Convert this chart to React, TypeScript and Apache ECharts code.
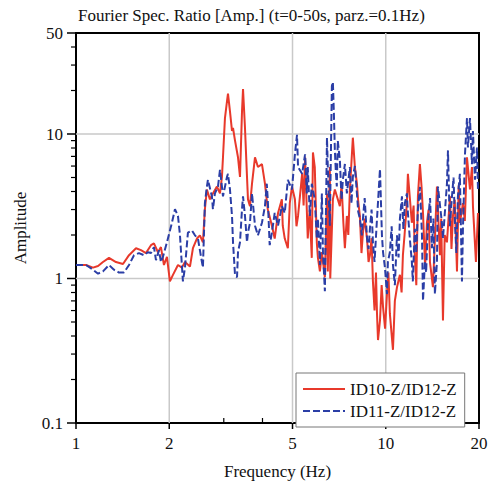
import React, { useEffect, useRef } from "react";
import * as echarts from "echarts";

const TITLE = "Fourier Spec. Ratio [Amp.] (t=0-50s, parz.=0.1Hz)";
const X_NAME = "Frequency (Hz)";
const Y_NAME = "Amplitude";
const SERIES_NAMES = ["ID10-Z/ID12-Z", "ID11-Z/ID12-Z"];
const X_RANGE = [1, 20];
const Y_RANGE = [0.1, 50];
const X_LABELS = [1, 2, 5, 10, 20];
const X_MINOR = [3, 4, 6, 7, 8, 9];
const X_GRID = [2, 5, 10];
const Y_LABELS = [0.1, 1, 10, 50];
const Y_MINOR = [0.2, 0.3, 0.4, 0.5, 0.6, 0.7, 0.8, 0.9, 2, 3, 4, 5, 6, 7, 8, 9, 20, 30, 40];
const Y_GRID = [1, 10];

const RED_FREQ = [
  1.0, 1.077, 1.135, 1.178, 1.222, 1.278, 1.346, 1.418, 1.483, 1.562, 1.621, 1.682, 1.746, 1.785,
  1.839, 1.88, 1.923, 1.966, 2.01, 2.056, 2.134, 2.198, 2.248, 2.333, 2.385, 2.457, 2.512, 2.569,
  2.607, 2.646, 2.706, 2.767, 2.851, 2.916, 2.959, 2.982, 3.026, 3.072, 3.095, 3.141, 3.189, 3.213,
  3.261, 3.334, 3.384, 3.435, 3.461, 3.512, 3.565, 3.591, 3.645, 3.7, 3.783, 3.867, 3.984, 4.074,
  4.16, 4.29, 4.38, 4.49, 4.62, 4.65, 4.72, 4.83, 4.9, 4.98, 5.09, 5.15, 5.21, 5.37, 5.43, 5.49,
  5.6, 5.68, 5.77, 5.82, 5.9, 5.99, 6.04, 6.13, 6.22, 6.36, 6.46, 6.5, 6.6, 6.62, 6.75, 6.85, 7.11,
  7.2, 7.3, 7.38, 7.49, 7.57, 7.66, 7.83, 7.95, 8.07, 8.15, 8.25, 8.35, 8.44, 8.55, 8.7, 8.8, 8.89,
  9.0, 9.09, 9.2, 9.3, 9.37, 9.44, 9.58, 9.7, 9.8, 9.95, 10.09, 10.2, 10.31, 10.55, 10.7, 10.87,
  11.11, 11.25, 11.36, 11.5, 11.7, 11.79, 12.14, 12.3, 12.41, 12.55, 12.7, 12.89, 13.05, 13.19,
  13.4, 13.58, 13.75, 13.89, 14.2, 14.4, 14.63, 14.96, 15.1, 15.3, 15.5, 15.76, 16.12, 16.3, 16.48,
  16.7, 16.98, 17.2, 17.36, 17.75, 18.0, 18.29, 18.7, 18.98, 19.12, 19.55, 19.85,
];
const RED_AMP = [
  1.24, 1.24, 1.19, 1.22, 1.3, 1.39, 1.3, 1.26, 1.45, 1.62, 1.57, 1.5, 1.7, 1.75,
  1.52, 1.65, 1.24, 1.41, 0.955, 1.06, 1.24, 1.19, 1.3, 1.21, 1.62, 1.89, 1.99, 1.78,
  3.02, 4.13, 3.53, 3.88, 4.33, 3.88, 5.05, 6.9, 12.87, 16.8, 19.0, 14.35, 10.5, 11.0,
  9.0, 6.9, 5.05, 14.35, 20.5, 11.0, 5.05, 3.53, 3.17, 4.53, 6.9, 5.91, 6.19, 4.53,
  3.02, 2.32, 1.89, 2.84, 3.53, 2.32, 1.89, 1.62, 3.32, 4.33, 3.53, 2.3, 2.71, 5.3, 3.2, 6.9,
  1.89, 3.0, 1.39, 7.46, 5.91, 1.78, 1.39, 1.12, 1.52, 1.02, 3.88, 1.12, 5.91, 1.0, 3.53, 4.13, 3.17,
  4.5, 2.4, 1.62, 2.71, 2.0, 4.13, 9.43, 5.91, 4.53, 3.4, 2.71, 1.5, 2.08, 2.6, 1.89, 1.3, 1.45,
  1.9, 0.955, 0.6, 1.1, 0.571, 0.375, 0.512, 0.9, 0.637, 0.45, 0.78, 1.1, 0.571, 0.321, 0.7, 0.87,
  1.06, 0.8, 1.45, 2.0, 3.32, 5.3, 2.43, 3.2, 1.45, 0.9, 3.7, 6.19, 4.3, 2.84,
  1.2, 2.43, 3.0, 1.3, 0.87, 1.8, 4.33, 1.45, 2.6, 0.512, 2.0, 1.78, 3.7, 1.6, 2.71,
  3.5, 1.12, 4.4, 2.43, 3.32, 2.5, 6.9, 4.13, 5.91, 3.17, 1.3, 2.84,
];

const BLUE_FREQ = [
  1.0, 1.077, 1.135, 1.178, 1.222, 1.278, 1.326, 1.376, 1.428, 1.483, 1.539, 1.597, 1.658, 1.707,
  1.746, 1.785, 1.812, 1.853, 1.88, 1.908, 1.966, 2.04, 2.087, 2.134, 2.166, 2.214, 2.248, 2.298,
  2.368, 2.421, 2.475, 2.55, 2.569, 2.607, 2.646, 2.666, 2.747, 2.767, 2.809, 2.873, 2.916, 2.959,
  2.982, 3.072, 3.095, 3.141, 3.189, 3.213, 3.261, 3.31, 3.334, 3.384, 3.435, 3.461, 3.512, 3.565,
  3.591, 3.645, 3.7, 3.783, 3.867, 3.984, 4.074, 4.13, 4.16, 4.22, 4.29, 4.38, 4.49, 4.62, 4.72,
  4.83, 4.98, 5.09, 5.17, 5.21, 5.37, 5.49, 5.56, 5.6, 5.69, 5.77, 5.9, 5.99, 6.04, 6.13, 6.22,
  6.27, 6.36, 6.46, 6.5, 6.6, 6.7, 6.75, 6.8, 6.85, 6.9, 6.95, 7.0, 7.11, 7.2, 7.27, 7.38, 7.49,
  7.66, 7.75, 7.83, 7.95, 8.07, 8.15, 8.25, 8.37, 8.44, 8.55, 8.7, 8.8, 8.89, 9.0, 9.09, 9.2, 9.37,
  9.58, 9.72, 9.8, 9.94, 10.09, 10.16, 10.31, 10.45, 10.55, 10.7, 10.87, 11.0, 11.11, 11.28, 11.4,
  11.53, 11.7, 11.79, 11.96, 12.14, 12.23, 12.41, 12.55, 12.7, 12.9, 13.09, 13.19, 13.38, 13.5,
  13.68, 13.9, 14.09, 14.25, 14.41, 14.63, 14.74, 15.18, 15.3, 15.76, 15.88, 16.1, 16.36, 16.55,
  16.73, 16.9, 17.1, 17.35, 17.62, 17.75, 18.02, 18.29, 18.42, 18.7, 18.98, 19.12, 19.41, 19.7, 19.85,
];
const BLUE_AMP = [
  1.24, 1.24, 1.15, 1.08, 1.12, 1.24, 1.15, 1.1, 1.1, 1.24, 1.45, 1.5, 1.45, 1.52,
  1.5, 1.65, 1.34, 1.57, 1.3, 1.41, 1.78, 2.43, 3.02, 2.71, 1.99, 0.955, 1.19, 2.08,
  2.15, 1.99, 1.89, 1.3, 1.19, 3.32, 4.33, 4.82, 3.7, 3.02, 3.88, 4.33, 5.64, 4.33,
  3.7, 5.05, 5.3, 4.13, 2.71, 1.78, 1.06, 1.02, 1.52, 1.78, 3.02, 3.7, 2.71, 1.78,
  2.08, 2.43, 3.88, 2.32, 1.99, 2.43, 3.17, 4.53, 3.53, 1.7, 2.08, 2.84, 2.32, 3.17, 2.84,
  4.82, 4.13, 7.23, 9.88, 5.91, 5.3, 7.23, 3.88, 5.91, 2.71, 4.53, 3.53, 1.89, 2.59, 1.24, 3.88,
  1.52, 0.817, 9.43, 5.91, 2.32, 21.5, 22.9, 14.0, 7.7, 5.5, 4.33, 9.0, 6.59, 3.5, 4.82, 6.2, 3.88,
  5.91, 3.3, 5.05, 6.0, 3.88, 2.9, 2.59, 1.99, 2.59, 3.6, 1.89, 1.6, 2.21, 3.0, 1.78, 1.3, 2.59,
  5.72, 1.99, 1.52, 1.19, 0.78, 1.3, 1.52, 2.3, 1.24, 0.9, 1.99, 1.4, 2.59, 3.7, 2.2,
  3.32, 3.88, 2.84, 1.89, 1.3, 0.955, 2.21, 1.5, 3.02, 4.3, 1.99, 0.7, 1.3, 1.1,
  2.43, 3.6, 1.62, 2.6, 0.78, 1.3, 4.33, 2.43, 1.89, 4.53, 7.7, 2.3, 3.7, 5.0,
  2.43, 1.5, 3.7, 5.3, 0.955, 2.21, 7.23, 12.87, 8.07, 12.87, 6.19, 10.5, 4.82, 8.07, 4.13,
];

const FONT = "Liberation Serif";
const FONT_SIZE = 17;
const TEXT_COLOR = "#111";
const RED = "#e8392b";
const BLUE = "#2b3ea6";
const GRID_COLOR = "#c9c9c9";

const zip = (a: number[], b: number[]) => a.map((v, i) => [v, b[i]]);

export default function App() {
  const ref = useRef<HTMLDivElement>(null);
  useEffect(() => {
    if (!ref.current) return;
    const chart = echarts.init(ref.current, undefined, { renderer: "svg" });

    // kind 0 = major tick + label, 1 = minor tick, 2 = grid line
    const xItems = [
      ...X_LABELS.map((v) => [v, Y_RANGE[0], 0]),
      ...X_MINOR.map((v) => [v, Y_RANGE[0], 1]),
      ...X_GRID.map((v) => [v, Y_RANGE[0], 2]),
    ];
    const yItems = [
      ...Y_LABELS.map((v) => [X_RANGE[0], v, 0]),
      ...Y_MINOR.map((v) => [X_RANGE[0], v, 1]),
      ...Y_GRID.map((v) => [X_RANGE[0], v, 2]),
    ];
    const textBase = {
      fontFamily: FONT,
      fontSize: FONT_SIZE,
      fontWeight: "normal",
      fill: TEXT_COLOR,
    };

    const xDecor = {
      type: "custom",
      silent: true,
      clip: false,
      z: 1,
      data: xItems,
      encode: { x: 0, y: 1 },
      renderItem: (_p: any, api: any) => {
        const v = api.value(0);
        const kind = api.value(2);
        const p0 = api.coord([v, Y_RANGE[0]]);
        const p1 = api.coord([v, Y_RANGE[1]]);
        if (kind === 2) {
          return {
            type: "line",
            shape: { x1: p0[0], y1: p0[1], x2: p1[0], y2: p1[1] },
            style: { stroke: GRID_COLOR, lineWidth: 1.5 },
          };
        }
        if (kind === 1) {
          return {
            type: "line",
            shape: { x1: p0[0], y1: p0[1], x2: p0[0], y2: p0[1] - 5 },
            style: { stroke: "#000", lineWidth: 1.2 },
          };
        }
        return {
          type: "group",
          children: [
            {
              type: "line",
              shape: { x1: p0[0], y1: p0[1], x2: p0[0], y2: p0[1] + 6 },
              style: { stroke: "#000", lineWidth: 1.5 },
            },
            {
              type: "text",
              style: {
                ...textBase,
                text: String(v),
                x: p0[0],
                y: p0[1] + 20,
                align: "center",
                verticalAlign: "middle",
              },
            },
          ],
        };
      },
    };

    const yDecor = {
      type: "custom",
      silent: true,
      clip: false,
      z: 1,
      data: yItems,
      encode: { x: 0, y: 1 },
      renderItem: (_p: any, api: any) => {
        const v = api.value(1);
        const kind = api.value(2);
        const p0 = api.coord([X_RANGE[0], v]);
        const p1 = api.coord([X_RANGE[1], v]);
        if (kind === 2) {
          return {
            type: "line",
            shape: { x1: p0[0], y1: p0[1], x2: p1[0], y2: p1[1] },
            style: { stroke: GRID_COLOR, lineWidth: 1.5 },
          };
        }
        if (kind === 1) {
          return {
            type: "line",
            shape: { x1: p0[0] - 5, y1: p0[1], x2: p0[0], y2: p0[1] },
            style: { stroke: "#000", lineWidth: 1.2 },
          };
        }
        return {
          type: "group",
          children: [
            {
              type: "line",
              shape: { x1: p0[0] - 9, y1: p0[1], x2: p0[0], y2: p0[1] },
              style: { stroke: "#000", lineWidth: 1.5 },
            },
            {
              type: "text",
              style: {
                ...textBase,
                text: String(v),
                x: p0[0] - 13,
                y: p0[1],
                align: "right",
                verticalAlign: "middle",
              },
            },
          ],
        };
      },
    };

    const nameStyle = { fontFamily: FONT, fontSize: FONT_SIZE, fontWeight: "normal", color: TEXT_COLOR };

    chart.setOption({
      animation: false,
      textStyle: { fontFamily: FONT },
      title: {
        text: TITLE,
        left: 78,
        top: 7,
        padding: 0,
        textStyle: nameStyle,
      },
      grid: {
        left: 76,
        right: 18,
        top: 33,
        bottom: 53,
        show: true,
        borderColor: "#000",
        borderWidth: 2,
        backgroundColor: "transparent",
      },
      legend: {
        data: SERIES_NAMES,
        orient: "vertical",
        left: 296,
        top: 373,
        itemWidth: 42,
        itemHeight: 14,
        itemGap: 4,
        padding: [7, 8, 7, 6],
        borderColor: "#777",
        borderWidth: 1,
        backgroundColor: "#fff",
        itemStyle: { opacity: 0 },
        textStyle: { ...nameStyle, lineHeight: 18 },
      },
      xAxis: {
        type: "log",
        logBase: 10,
        min: X_RANGE[0],
        max: X_RANGE[1],
        name: X_NAME,
        nameLocation: "middle",
        nameGap: 40,
        nameTextStyle: nameStyle,
        axisLine: { show: false },
        axisTick: { show: false },
        axisLabel: { show: false },
        splitLine: { show: false },
      },
      yAxis: {
        type: "log",
        logBase: 10,
        min: Y_RANGE[0],
        max: Y_RANGE[1],
        name: Y_NAME,
        nameLocation: "middle",
        nameGap: 47,
        nameTextStyle: nameStyle,
        axisLine: { show: false },
        axisTick: { show: false },
        axisLabel: { show: false },
        splitLine: { show: false },
      },
      series: [
        xDecor,
        yDecor,
        {
          name: SERIES_NAMES[0],
          type: "line",
          symbol: "none",
          showSymbol: false,
          z: 3,
          lineStyle: { color: RED, width: 2 },
          itemStyle: { color: RED },
          data: zip(RED_FREQ, RED_AMP),
        },
        {
          name: SERIES_NAMES[1],
          type: "line",
          symbol: "none",
          showSymbol: false,
          z: 4,
          lineStyle: { color: BLUE, width: 2, type: [7, 3] },
          itemStyle: { color: BLUE },
          data: zip(BLUE_FREQ, BLUE_AMP),
        },
      ],
    });
    return () => chart.dispose();
  }, []);
  return (
    <div
      ref={ref}
      style={{ position: "fixed", left: 0, top: 0, width: 497, height: 485, background: "#fff" }}
    />
  );
}
